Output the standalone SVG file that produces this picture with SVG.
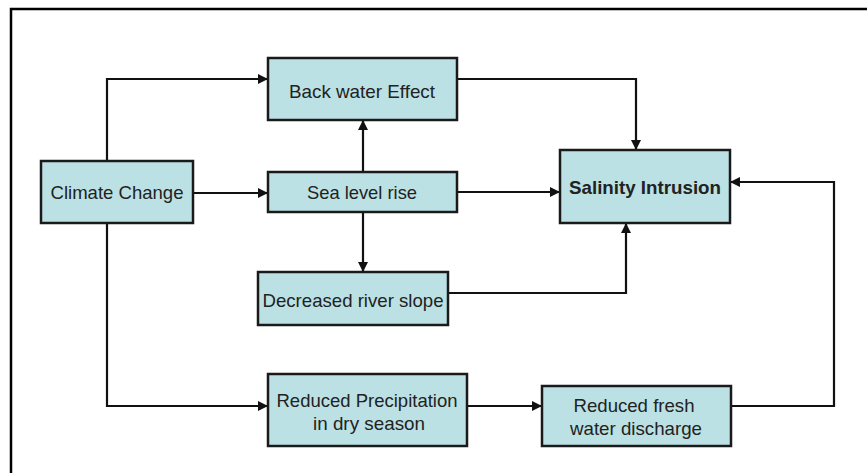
<svg xmlns="http://www.w3.org/2000/svg" width="867" height="473" viewBox="0 0 867 473">
<defs>
<style>
.box{fill:#bbe1e4;stroke:#1a1a1a;stroke-width:2.5}
.lbl{font-family:"Liberation Sans",Arial,sans-serif;font-size:19px;fill:#222;text-anchor:middle}
.bold{font-weight:bold}
.conn{fill:none;stroke:#111;stroke-width:2.2;marker-end:url(#ah)}
.frame{fill:none;stroke:#000;stroke-width:2.5}
</style>
<marker id="ah" markerUnits="userSpaceOnUse" markerWidth="12" markerHeight="12" viewBox="0 0 12 12" refX="11" refY="6" orient="auto">
<path d="M1,1 L11,6 L1,11 Z" fill="#111"/>
</marker>
</defs>
<rect width="867" height="473" fill="#fff"/>
<path class="frame" d="M11,473 V9 H867"/>
<g id="connectors">
<path class="conn" d="M107,161 V79 H268"/>
<path class="conn" d="M193,193 H268"/>
<path class="conn" d="M363,172 V120"/>
<path class="conn" d="M363,212 V272"/>
<path class="conn" d="M107,223 V406 H268"/>
<path class="conn" d="M457,79 H636 V150"/>
<path class="conn" d="M457,192 H560"/>
<path class="conn" d="M448,293 H626 V223"/>
<path class="conn" d="M467,406 H542"/>
<path class="conn" d="M731,406 H834 V182 H730"/>
</g>
<g id="climate-change">
<rect class="box" x="41" y="161" width="152" height="62"/>
<text class="lbl" x="117" y="199" textLength="133" lengthAdjust="spacingAndGlyphs">Climate Change</text>
</g>
<g id="back-water-effect">
<rect class="box" x="268" y="58" width="189" height="62"/>
<text class="lbl" x="362" y="98" textLength="146" lengthAdjust="spacingAndGlyphs">Back water Effect</text>
</g>
<g id="sea-level-rise">
<rect class="box" x="268" y="172" width="189" height="40"/>
<text class="lbl" x="362" y="199" textLength="110" lengthAdjust="spacingAndGlyphs">Sea level rise</text>
</g>
<g id="decreased-river-slope">
<rect class="box" x="258" y="272" width="190" height="53"/>
<text class="lbl" x="353" y="307" textLength="181" lengthAdjust="spacingAndGlyphs">Decreased river slope</text>
</g>
<g id="salinity-intrusion">
<rect class="box" x="560" y="150" width="170" height="73"/>
<text class="lbl bold" x="645" y="194" textLength="152" lengthAdjust="spacingAndGlyphs">Salinity Intrusion</text>
</g>
<g id="reduced-precipitation">
<rect class="box" x="268" y="374" width="199" height="72"/>
<text class="lbl" x="367" y="407" textLength="181" lengthAdjust="spacingAndGlyphs">Reduced Precipitation</text>
<text class="lbl" x="369" y="430" textLength="112" lengthAdjust="spacingAndGlyphs">in dry season</text>
</g>
<g id="reduced-fresh-water-discharge">
<rect class="box" x="542" y="386" width="189" height="60"/>
<text class="lbl" x="634" y="412" textLength="121" lengthAdjust="spacingAndGlyphs">Reduced fresh</text>
<text class="lbl" x="636" y="435" textLength="132" lengthAdjust="spacingAndGlyphs">water discharge</text>
</g>
</svg>
